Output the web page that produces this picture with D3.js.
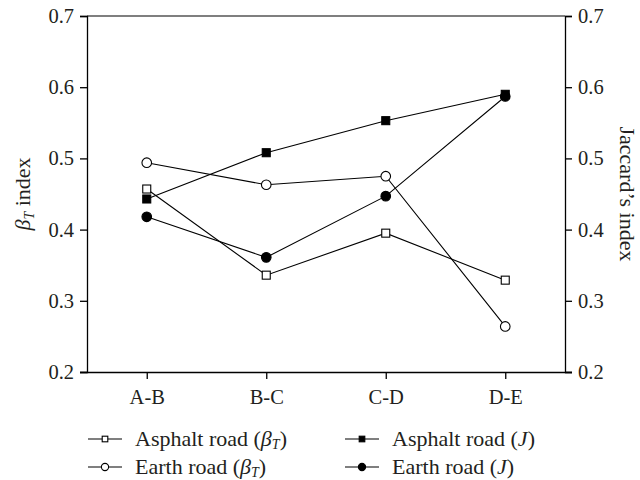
<!DOCTYPE html>
<html><head><meta charset="utf-8">
<script src="https://cdn.jsdelivr.net/npm/d3@7"></script>
<style>body{margin:0;background:#fff}svg{display:block}text{font-family:"Liberation Serif","DejaVu Serif",serif;fill:#231f20}</style>
</head><body><svg id="c" width="640" height="480"></svg>
<script>
const categories = ["A-B","B-C","C-D","D-E"];
const asphaltBeta = [0.457,0.336,0.395,0.329];
const earthBeta   = [0.494,0.463,0.475,0.264];
const asphaltJ    = [0.443,0.508,0.553,0.590];
const earthJ      = [0.418,0.361,0.447,0.587];
const yTicks = [0.2,0.3,0.4,0.5,0.6,0.7];

const series = [
  {name:"Asphalt road", sym:"β", values:asphaltBeta, shape:"square", fill:"#fff"},
  {name:"Earth road", sym:"β", values:earthBeta, shape:"circle", fill:"#fff"},
  {name:"Asphalt road", sym:"J", values:asphaltJ, shape:"square", fill:"#000"},
  {name:"Earth road", sym:"J", values:earthJ, shape:"circle", fill:"#000"}
];

const svg = d3.select("#c");
const L=87, R=565, T=16, B=372;
const x = d3.scalePoint().domain(categories).range([L,R]).padding(0.5);
const y = d3.scaleLinear().domain([0.2,0.7]).range([B,T]);
const fsTick = 20.5, fsTitle = 22, fsLeg = 22;

// top border
svg.append("line").attr("x1",L).attr("x2",R).attr("y1",T).attr("y2",T).attr("stroke","#555").attr("stroke-width",1.3);

const yl = svg.append("g").attr("transform",`translate(${L},0)`)
  .call(d3.axisLeft(y).tickValues(yTicks).tickFormat(d3.format(".1f")).tickSize(7).tickPadding(6));
const yr = svg.append("g").attr("transform",`translate(${R},0)`)
  .call(d3.axisRight(y).tickValues(yTicks).tickFormat(d3.format(".1f")).tickSize(7).tickPadding(6));
const xb = svg.append("g").attr("transform",`translate(0,${B})`)
  .call(d3.axisBottom(x).tickSize(7).tickPadding(10));
[yl,yr,xb].forEach(g=>{
  g.attr("font-size",fsTick).attr("font-family","Liberation Serif");
  g.select(".domain").attr("stroke","#000").attr("stroke-width",1.3);
  g.selectAll(".tick line").attr("stroke","#000").attr("stroke-width",1.3);
  g.selectAll("text").attr("font-size",fsTick).attr("fill","#231f20");
});
xb.select(".domain").attr("d",`M${L-7},0.5H${R+7}`);

// series
const line = d3.line().x((d,i)=>x(categories[i])).y(d=>y(d));
function marker(g, shape, fill, cx, cy, s){
  if(shape==="square"){
    g.append("rect").attr("x",cx-s).attr("y",cy-s).attr("width",2*s).attr("height",2*s)
      .attr("fill",fill).attr("stroke","#000").attr("stroke-width",1.1);
  } else {
    g.append("circle").attr("cx",cx).attr("cy",cy).attr("r",s+0.8)
      .attr("fill",fill).attr("stroke","#000").attr("stroke-width",1.1);
  }
}
series.forEach(s=>{
  svg.append("path").datum(s.values).attr("d",line).attr("fill","none").attr("stroke","#000").attr("stroke-width",1.1);
});
series.forEach(s=>{
  const g=svg.append("g");
  s.values.forEach((v,i)=>marker(g,s.shape,s.fill,x(categories[i]),y(v),4));
});

// axis titles
const lt = svg.append("text").attr("transform",`translate(30,${(T+B)/2}) rotate(-90)`).attr("text-anchor","middle").attr("font-size",fsTitle);
lt.append("tspan").attr("font-style","italic").text("β");
lt.append("tspan").attr("font-style","italic").attr("font-size",14).attr("dy",4).text("T");
lt.append("tspan").attr("dy",-4).text(" index");
svg.append("text").attr("transform",`translate(620,${(T+B)/2}) rotate(90)`).attr("text-anchor","middle").attr("font-size",fsTitle).text("Jaccard’s index");

// legend
const legPos = [[88,439],[88,467],[345,439],[345,467]];
series.forEach((s,i)=>{
  const [lx,ly]=legPos[i];
  const g=svg.append("g");
  g.append("line").attr("x1",lx).attr("x2",lx+34).attr("y1",ly).attr("y2",ly).attr("stroke","#000").attr("stroke-width",1.1);
  marker(g,s.shape,s.fill,lx+17,ly,2.8);
  const t=g.append("text").attr("x",lx+47).attr("y",ly+7).attr("font-size",fsLeg);
  t.append("tspan").text(s.name+" (");
  if(s.sym==="β"){
    t.append("tspan").attr("font-style","italic").text("β");
    t.append("tspan").attr("font-style","italic").attr("font-size",14).attr("dy",3).text("T");
    t.append("tspan").attr("dy",-3).text(")");
  } else {
    t.append("tspan").attr("font-style","italic").text("J");
    t.append("tspan").text(")");
  }
});
</script></body></html>
